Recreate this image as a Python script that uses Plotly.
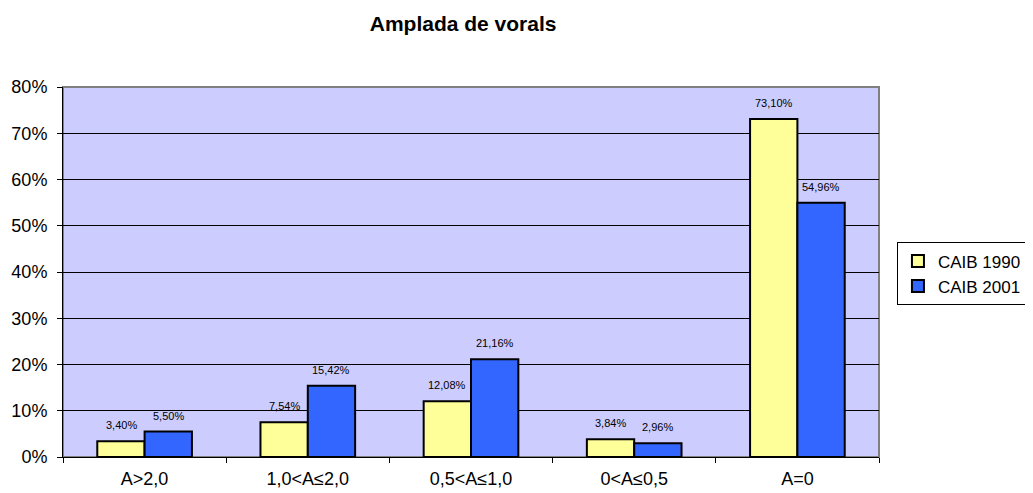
import plotly.graph_objects as go

categories = ["A>2,0", "1,0<A≤2,0", "0,5<A≤1,0", "0<A≤0,5", "A=0"]
caib_1990 = [3.40, 7.54, 12.08, 3.84, 73.10]
caib_2001 = [5.50, 15.42, 21.16, 2.96, 54.96]


def pct_label(v):
    return ("%.2f%%" % v).replace(".", ",")


fig = go.Figure()
fig.add_trace(go.Bar(x=categories, y=[v / 100 for v in caib_1990], name="CAIB 1990",
                     marker=dict(color="#FFFF99", line=dict(color="black", width=2))))
fig.add_trace(go.Bar(x=categories, y=[v / 100 for v in caib_2001], name="CAIB 2001",
                     marker=dict(color="#3366FF", line=dict(color="black", width=2))))

# value labels above each bar (shifted half a bar left / right)
for vals, shift in [(caib_1990, -23.6), (caib_2001, 23.6)]:
    for cat, v in zip(categories, vals):
        fig.add_annotation(x=cat, y=v / 100, text=pct_label(v), showarrow=False,
                           xshift=shift, yshift=8, yanchor="bottom",
                           font=dict(size=11, color="black"))

# grey frame of the plot area (top and right edges)
fig.add_shape(type="rect", xref="paper", yref="paper", x0=0, x1=1, y0=0, y1=1,
              line=dict(color="#808080", width=2), layer="below")

fig.update_layout(
    width=1025, height=485,
    title=dict(text="<b>Amplada de vorals</b>", x=0.444, xanchor="center",
               y=0.967, yanchor="middle", font=dict(size=21, color="black")),
    font=dict(family="Liberation Sans, Arial", color="black", size=18),
    paper_bgcolor="white", plot_bgcolor="#CCCCFF",
    margin=dict(l=55, r=154, t=79, b=36, autoexpand=False),
    barmode="group", bargap=0.42, bargroupgap=0,
    showlegend=True,
    legend=dict(x=1.022, y=0.495, xanchor="left", yanchor="middle",
                bordercolor="black", borderwidth=1, bgcolor="white",
                font=dict(size=17), itemwidth=30, tracegroupgap=0),
)
fig.update_yaxes(range=[0, 0.8], dtick=0.1, tickformat=".0%", showgrid=True,
                 gridcolor="black", gridwidth=1, showline=True, linecolor="black",
                 linewidth=1, ticks="outside", ticklen=5, tickcolor="black",
                 zeroline=False, ticklabelstandoff=6)
fig.update_xaxes(showline=True, linecolor="black", linewidth=1, ticks="outside",
                 ticklen=5, tickcolor="black", tickson="boundaries", showgrid=False,
                 ticklabelstandoff=5)

fig.write_html("out.html")
